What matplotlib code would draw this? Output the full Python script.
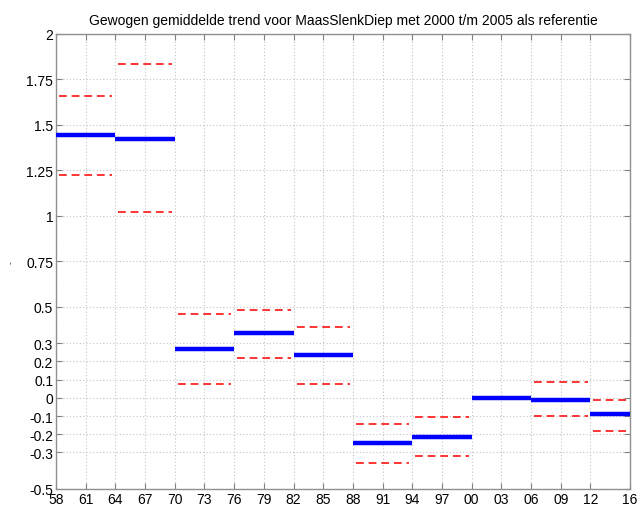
import matplotlib.pyplot as plt
import numpy as np

plt.rcParams['font.family'] = ['Liberation Sans', 'DejaVu Sans']

# period boundaries (years)
starts = [1958, 1964, 1970, 1976, 1982, 1988, 1994, 2000, 2006, 2012]
ends = [1964, 1970, 1976, 1982, 1988, 1994, 2000, 2006, 2012, 2016]
# weighted mean trend and confidence bounds per period
mean = [1.445, 1.425, 0.27, 0.355, 0.235, -0.25, -0.215, 0.0, -0.01, -0.09]
upper = [1.66, 1.835, 0.46, 0.48, 0.39, -0.145, -0.105, None, 0.085, -0.012]
lower = [1.225, 1.02, 0.075, 0.22, 0.075, -0.36, -0.32, None, -0.10, -0.18]

xticks = [1958, 1961, 1964, 1967, 1970, 1973, 1976, 1979, 1982, 1985, 1988,
          1991, 1994, 1997, 2000, 2003, 2006, 2009, 2012, 2016]
xlabels = ['%02d' % (y % 100) for y in xticks]
yticks = [-0.5, -0.3, -0.2, -0.1, 0, 0.1, 0.2, 0.3, 0.5, 0.75, 1, 1.25, 1.5, 1.75, 2]
ylabels = ['-0.5', '-0.3', '-0.2', '-0.1', '0', '0.1', '0.2', '0.3', '0.5',
           '0.75', '1', '1.25', '1.5', '1.75', '2']

fig = plt.figure(figsize=(6.4, 5.06), dpi=100)
ax = fig.add_axes([0.0875, 0.032, 0.897, 0.899])

for s, e, m, u, l in zip(starts, ends, mean, upper, lower):
    ax.plot([s, e], [m, m], color='#0000ff', lw=3.2, solid_capstyle='butt', zorder=3)
    if u is not None:
        ax.plot([s + 0.3, e - 0.3], [u, u], color='#ff3333', lw=1.4,
                dashes=(4, 2.5), zorder=2)
        ax.plot([s + 0.3, e - 0.3], [l, l], color='#ff3333', lw=1.4,
                dashes=(4, 2.5), zorder=2)

ax.set_xlim(1958, 2016)
ax.set_ylim(-0.5, 2)
ax.set_xticks(xticks)
ax.set_xticklabels(xlabels)
ax.set_yticks(yticks)
ax.set_yticklabels(ylabels)
ax.grid(True, color='#c4c4c4', linestyle=(0, (1, 2)), linewidth=0.8)
ax.tick_params(direction='in', top=True, right=True, length=4, labelsize=10,
               color='#808080', pad=2)
for sp in ax.spines.values():
    sp.set_color('#909090')
    sp.set_linewidth(1.0)

ax.set_title('Gewogen gemiddelde trend voor MaasSlenkDiep met 2000 t/m 2005 als referentie',
             fontsize=10, pad=7)
ax.set_ylabel('-', fontsize=6)
ax.yaxis.set_label_coords(-0.072, 0.5)

fig.savefig('out.png', dpi=100)
